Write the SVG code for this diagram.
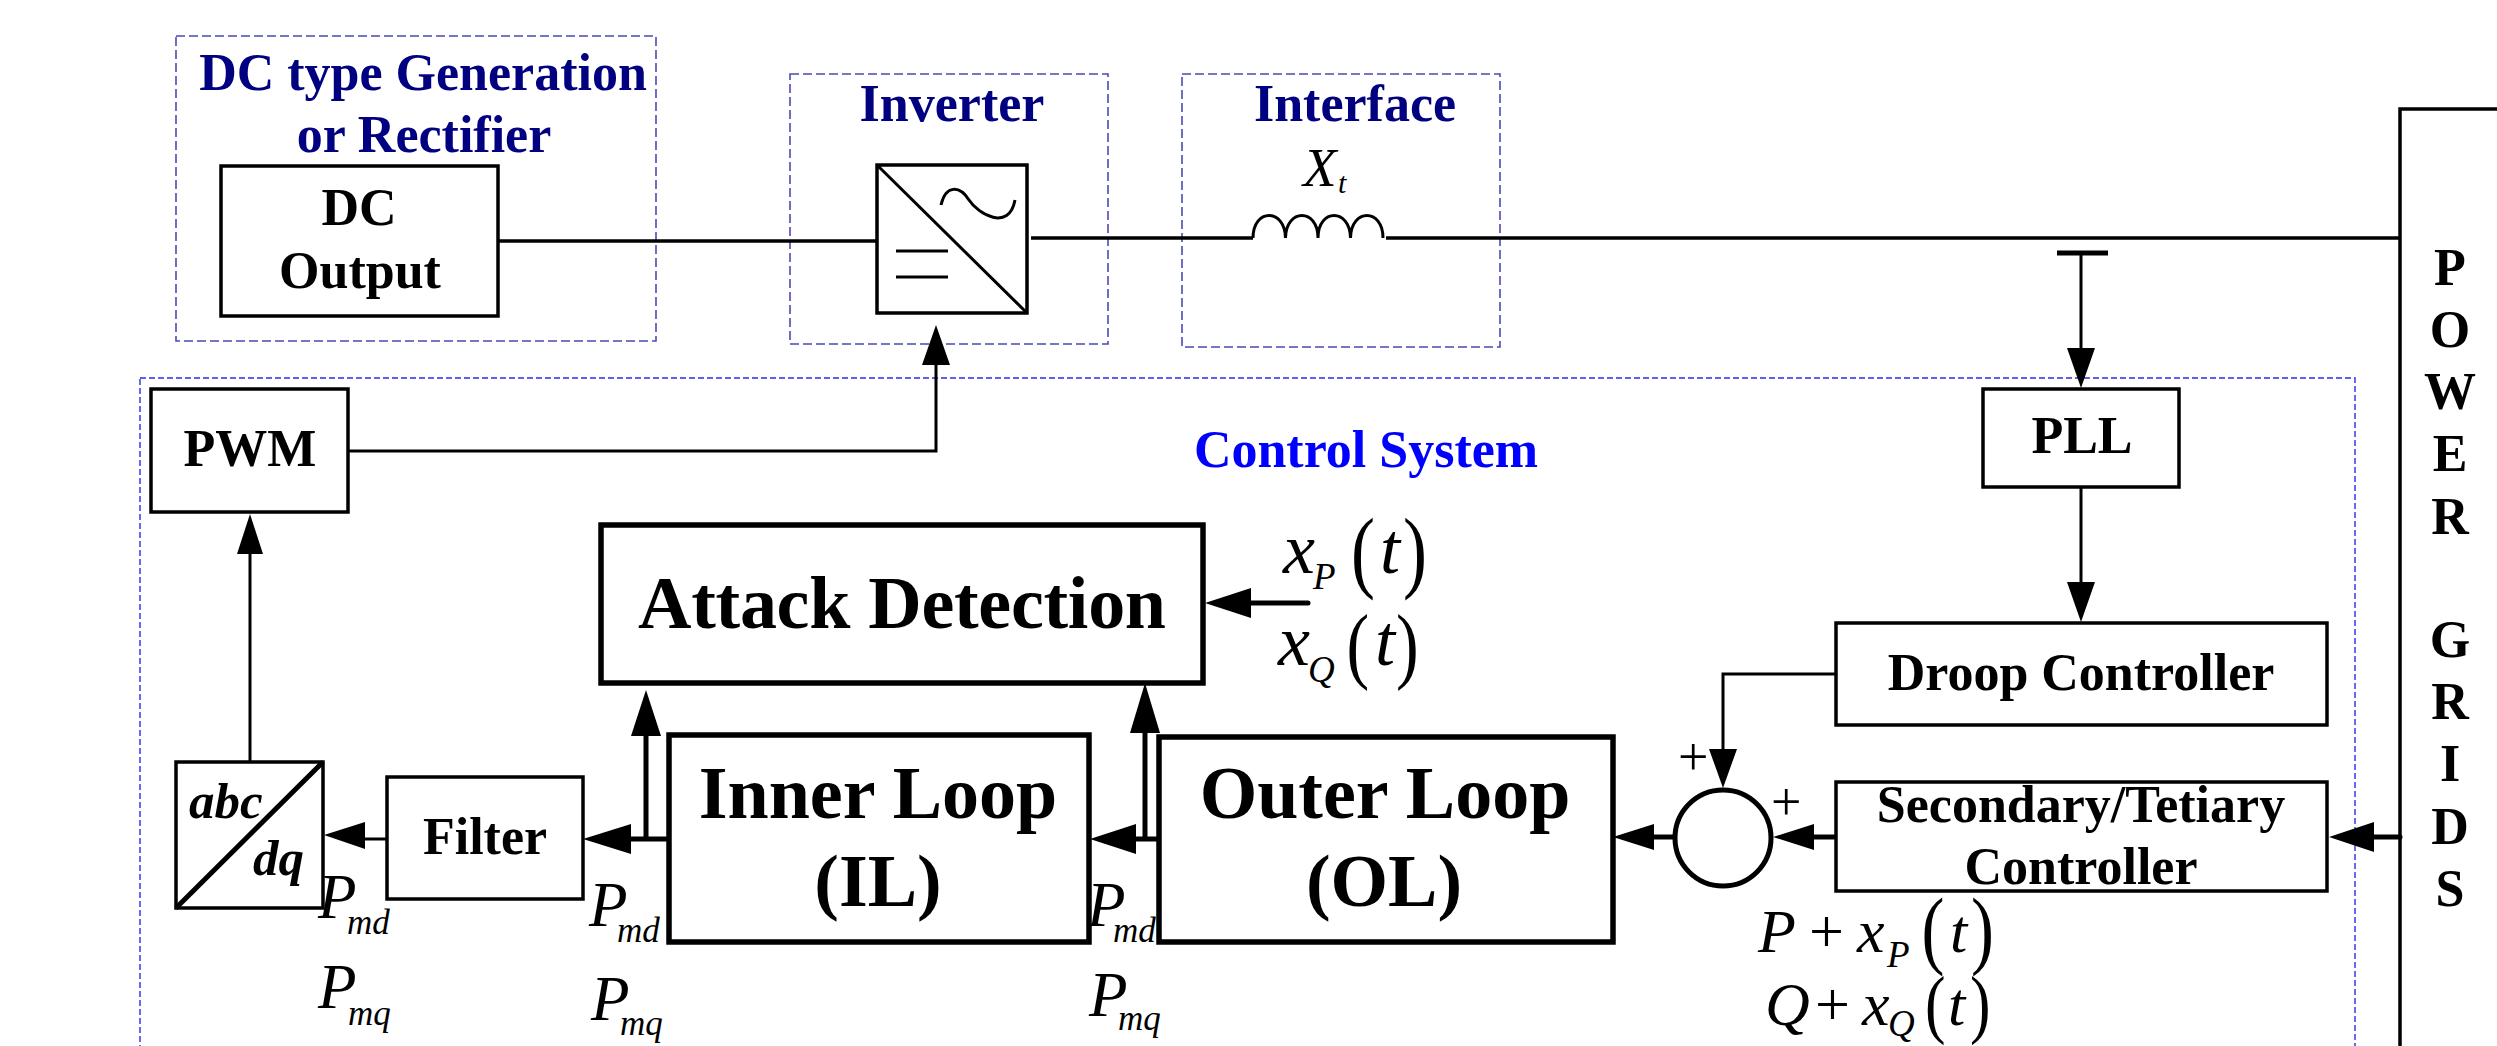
<svg xmlns="http://www.w3.org/2000/svg" width="2497" height="1046" viewBox="0 0 2497 1046">
<style>
text{font-family:"Liberation Serif","Times New Roman",serif;fill:#000}
.b{font-weight:bold;font-size:52px;text-anchor:middle}
.big{font-weight:bold;font-size:74px;text-anchor:middle}
.navy{fill:#000080}
.blue{fill:#0000ff}
.i{font-style:italic}
.bi{font-style:italic;font-weight:bold;font-size:51px}
.box{fill:none;stroke:#000;stroke-width:3.5}
.heavy{fill:none;stroke:#000;stroke-width:5.5}
.dash{fill:none;stroke:#4a4ab4;stroke-width:1.6;stroke-dasharray:9 4}
.cdash{fill:none;stroke:#2a2aee;stroke-width:1.4;stroke-dasharray:6 3}
.ln{fill:none;stroke:#000;stroke-width:3}
.bus{fill:none;stroke:#000;stroke-width:3.6}
.th{fill:none;stroke:#000;stroke-width:5}
.ah{fill:#000;stroke:none}
.big-p{font-size:63px;font-style:italic}
.sub{font-size:35px;font-style:italic}
.m{font-size:72px;font-style:italic}
.m2{font-size:62px;font-style:italic}
.s2{font-size:37px;font-style:italic}
</style>
<rect width="2497" height="1046" fill="#fff"/>
<g id="region-frames">
<rect class="dash" x="176" y="36" width="480" height="305"/>
<rect class="dash" x="790" y="74" width="318" height="270"/>
<rect class="dash" x="1182" y="74" width="318" height="273"/>
<rect class="cdash" x="140" y="378" width="2215" height="700"/>
</g>
<g id="connectors">
<path class="bus" d="M498 241H877M1031 238H1253M1386 238H2400"/>
<path class="ln" d="M1253 238C1253 208 1285 208 1285.500 238C1286 208 1318 208 1318 238C1318 208 1350 208 1350.500 238C1351 208 1383 208 1383 238"/>
<path class="th" d="M2057 253H2108"/>
<path class="ln" d="M2081 253V350"/><polygon class="ah" points="2081,388 2067,348 2095,348"/>
<path class="ln" d="M2081 487V585"/><polygon class="ah" points="2081,622 2067,582 2095,582"/>
<path class="ln" d="M348 451H936V362"/><polygon class="ah" points="936,325 922,365 950,365"/>
<path class="ln" d="M250 762V552"/><polygon class="ah" points="250,514 237,554 263,554"/>
<path class="ln" d="M1836 674H1723V752"/><polygon class="ah" points="1723,788 1709,749 1737,749"/>
<path class="th" d="M1836 837H1812"/><polygon class="ah" points="1773,837 1814,824 1814,850"/>
<path class="th" d="M1674 837H1652"/><polygon class="ah" points="1613,837 1654,824 1654,850"/>
<path class="th" d="M2400 837H2372" stroke-linecap="round"/><polygon class="ah" points="2329,837 2374,822 2374,852"/>
<path class="th" d="M1159 839H1134"/><polygon class="ah" points="1090,839 1136,824 1136,854"/>
<path class="th" d="M669 839H629"/><polygon class="ah" points="583,839 631,824 631,854"/>
<path class="ln" d="M387 839H363"/><polygon class="ah" points="324,835 365,822 365,849"/>
<path class="th" d="M646 839V734"/><polygon class="ah" points="646,690 631,736 661,736"/>
<path class="th" d="M1145 839V731"/><polygon class="ah" points="1145,683 1130,733 1160,733"/>
<path class="th" d="M1308 603H1249" stroke-linecap="round"/><polygon class="ah" points="1205,603 1251,588 1251,618"/>
</g>
<g id="dc-generation"><text class="b navy" x="423" y="90">DC type Generation</text><text class="b navy" x="424" y="152">or Rectifier</text></g>
<g id="inverter-label"><text class="b navy" x="952" y="121">Inverter</text></g>
<g id="interface"><text class="b navy" x="1355" y="121">Interface</text>
<text class="i" font-size="55" x="1303" y="186">X<tspan font-size="30" x="1338" y="193">t</tspan></text></g>
<g id="control-label"><text class="b blue" x="1366" y="467">Control System</text></g>
<g id="dc-output"><rect class="box" x="221" y="166" width="277" height="150"/><text class="b" x="359" y="225">DC</text><text class="b" x="360" y="288">Output</text></g>
<g id="inverter"><rect class="box" x="877" y="165" width="150" height="148"/><path class="ln" d="M877 165L1027 313M896 251H948M896 277H948"/><path class="ln" d="M941 205C946 184 960 186 969 200S1009 232 1015 200"/></g>
<g id="pwm"><rect class="box" x="151" y="389" width="197" height="123"/><text class="b" x="250" y="466">PWM</text></g>
<g id="pll"><rect class="box" x="1983" y="389" width="196" height="98"/><text class="b" x="2082" y="453">PLL</text></g>
<g id="droop"><rect class="box" x="1836" y="623" width="491" height="102"/><text class="b" x="2081" y="690">Droop Controller</text></g>
<g id="secondary"><rect class="box" x="1836" y="782" width="491" height="109"/><text class="b" x="2081" y="822">Secondary/Tetiary</text><text class="b" x="2081" y="884">Controller</text></g>
<g id="attack"><rect class="heavy" x="601" y="525" width="602" height="158"/><text class="big" x="902" y="628" textLength="528" lengthAdjust="spacing">Attack Detection</text></g>
<g id="inner-loop"><rect class="heavy" x="669" y="735" width="420" height="207"/><text class="big" x="878" y="818">Inner Loop</text><text class="big" x="878" y="906">(IL)</text></g>
<g id="outer-loop"><rect class="heavy" x="1159" y="737" width="454" height="205"/><text class="big" x="1385" y="818">Outer Loop</text><text class="big" x="1384" y="906">(OL)</text></g>
<g id="filter"><rect class="box" x="387" y="777" width="196" height="122"/><text class="b" x="485" y="854">Filter</text></g>
<g id="abc-dq"><rect class="box" x="176" y="762" width="147" height="146"/><path class="th" d="M323 762L176 908"/><text class="bi" x="189" y="818">abc</text><text class="bi" x="253" y="875">dq</text></g>
<g id="summer"><circle cx="1723" cy="838" r="48" fill="none" stroke="#000" stroke-width="5"/><text font-size="54" x="1678" y="775">+</text><text font-size="54" x="1771" y="820">+</text></g>
<g id="power-grids">
<path class="box" d="M2497 109H2400V1046"/>
<text class="b" x="2450" y="285">P</text><text class="b" x="2450" y="347">O</text><text class="b" x="2450" y="409">W</text><text class="b" x="2450" y="471">E</text><text class="b" x="2450" y="534">R</text>
<text class="b" x="2450" y="657">G</text><text class="b" x="2450" y="719">R</text><text class="b" x="2450" y="781">I</text><text class="b" x="2450" y="844">D</text><text class="b" x="2450" y="906">S</text>
</g>
<g id="labels-p">
<text class="big-p" x="318" y="918">P<tspan class="sub" x="347" y="934">md</tspan></text>
<text class="big-p" x="318" y="1008">P<tspan class="sub" x="348" y="1025">mq</tspan></text>
<text class="big-p" x="589" y="926">P<tspan class="sub" x="617" y="942">md</tspan></text>
<text class="big-p" x="591" y="1020">P<tspan class="sub" x="620" y="1035">mq</tspan></text>
<text class="big-p" x="1087" y="926">P<tspan class="sub" x="1113" y="942">md</tspan></text>
<text class="big-p" x="1089" y="1016">P<tspan class="sub" x="1118" y="1030">mq</tspan></text>
</g>
<g id="labels-attack">
<text class="m" x="1283" y="573">x<tspan class="s2" x="1313" y="589">P</tspan></text>
<text transform="translate(1351 581) scale(.8 1)" font-size="90">(</text><text class="m" x="1380" y="573">t</text><text transform="translate(1403 581) scale(.8 1)" font-size="90">)</text>
<text class="m" x="1278" y="665">x<tspan class="s2" x="1308" y="682">Q</tspan></text>
<text transform="translate(1346.500 673) scale(.8 1)" font-size="85">(</text><text class="m" x="1375" y="665">t</text><text transform="translate(1396 673) scale(.8 1)" font-size="85">)</text>
</g>
<g id="labels-pq">
<text class="m2" x="1758" y="952">P</text><text font-size="62" x="1809" y="952">+</text><text class="m2" x="1857" y="952">x<tspan class="s2" x="1887" y="967">P</tspan></text>
<text transform="translate(1921.500 958) scale(.8 1)" font-size="86">(</text><text class="m2" x="1950" y="952">t</text><text transform="translate(1971 958) scale(.8 1)" font-size="86">)</text>
<text class="m2" x="1765" y="1025">Q</text><text font-size="62" x="1815" y="1025">+</text><text class="m2" x="1862" y="1025">x<tspan class="s2" x="1888" y="1036">Q</tspan></text>
<text transform="translate(1925 1029) scale(.8 1)" font-size="77">(</text><text class="m2" x="1948" y="1025">t</text><text transform="translate(1970 1029) scale(.8 1)" font-size="77">)</text>
</g>
</svg>
